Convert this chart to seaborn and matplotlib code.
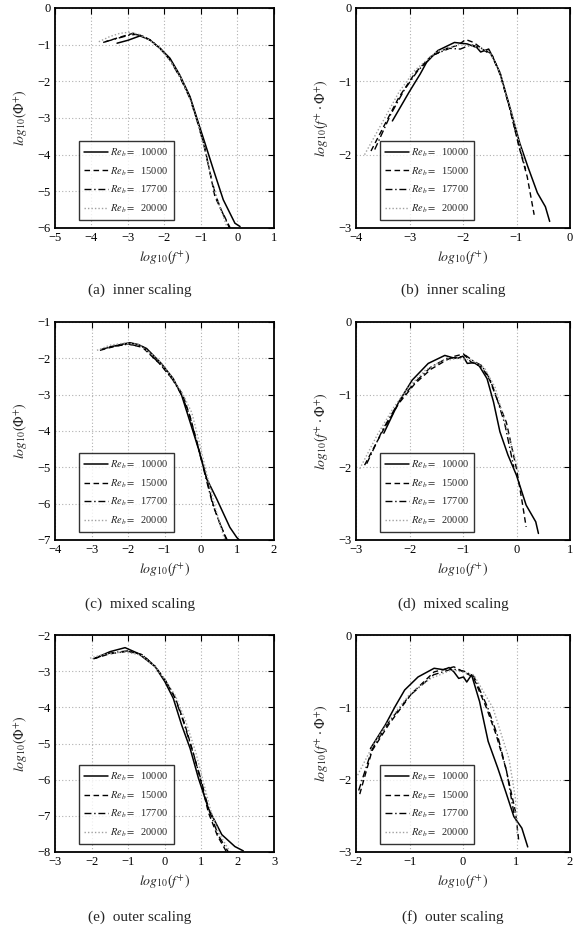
import numpy as np
import pandas as pd
import matplotlib
matplotlib.use("Agg")
import matplotlib.pyplot as plt
import seaborn as sns

# ---------------- data ----------------
labels = ["10000", "15000", "17700", "20000"]

# (a) inner scaling, log10(Phi+)
a_x_10000 = [-3.30, -3.00, -2.67, -2.40, -2.12, -1.85, -1.58, -1.30, -1.07, -0.89, -0.66, -0.39, -0.07, 0.07]
a_y_10000 = [-0.96, -0.88, -0.76, -0.87, -1.10, -1.37, -1.83, -2.42, -3.14, -3.69, -4.41, -5.23, -5.87, -5.96]
a_x_15000 = [-3.68, -3.30, -3.00, -2.85, -2.67, -2.40, -2.12, -1.85, -1.58, -1.30, -1.07, -0.90, -0.75, -0.62, -0.45, -0.30, -0.20]
a_y_15000 = [-0.94, -0.82, -0.73, -0.69, -0.74, -0.87, -1.11, -1.40, -1.86, -2.45, -3.18, -3.80, -4.50, -5.14, -5.50, -5.80, -6.00]
a_x_17700 = [-3.62, -3.30, -3.00, -2.80, -2.60, -2.35, -2.10, -1.85, -1.58, -1.30, -1.07, -0.90, -0.74, -0.60, -0.45, -0.30, -0.22]
a_y_17700 = [-0.92, -0.83, -0.75, -0.72, -0.76, -0.90, -1.12, -1.42, -1.88, -2.47, -3.20, -3.82, -4.55, -5.10, -5.50, -5.82, -6.00]
a_x_20000 = [-3.80, -3.50, -3.22, -2.95, -2.70, -2.40, -2.10, -1.80, -1.55, -1.30, -1.07, -0.90, -0.74, -0.58, -0.42, -0.28]
a_y_20000 = [-0.92, -0.78, -0.69, -0.66, -0.72, -0.88, -1.12, -1.50, -1.90, -2.48, -3.20, -3.84, -4.55, -5.15, -5.60, -6.00]

# (b) inner scaling, log10(f+ . Phi+)
b_x_10000 = [-3.32, -3.01, -2.80, -2.68, -2.47, -2.16, -1.92, -1.74, -1.67, -1.52, -1.45, -1.31, -1.13, -0.94, -0.79, -0.61, -0.46, -0.38]
b_y_10000 = [-1.54, -1.15, -0.90, -0.74, -0.58, -0.47, -0.49, -0.54, -0.60, -0.56, -0.66, -0.88, -1.34, -1.84, -2.16, -2.52, -2.71, -2.91]
b_x_15000 = [-3.72, -3.40, -3.20, -2.89, -2.60, -2.30, -2.10, -1.95, -1.80, -1.60, -1.45, -1.30, -1.13, -0.95, -0.80, -0.67]
b_y_15000 = [-1.95, -1.50, -1.22, -0.88, -0.66, -0.55, -0.51, -0.43, -0.47, -0.58, -0.65, -0.92, -1.36, -1.90, -2.30, -2.82]
b_x_17700 = [-3.65, -3.35, -3.10, -2.85, -2.55, -2.25, -2.05, -1.85, -1.65, -1.48, -1.30, -1.12, -0.98, -0.83]
b_y_17700 = [-1.93, -1.45, -1.12, -0.86, -0.64, -0.55, -0.56, -0.50, -0.55, -0.62, -0.90, -1.38, -1.80, -2.20]
b_x_20000 = [-3.84, -3.50, -3.20, -2.90, -2.50, -2.10, -1.80, -1.50, -1.30, -1.10, -0.85]
b_y_20000 = [-2.00, -1.55, -1.15, -0.85, -0.60, -0.50, -0.52, -0.60, -0.90, -1.40, -2.10]

# (c) mixed scaling, log10(Phi+)
c_x_10000 = [-2.51, -2.20, -1.95, -1.72, -1.49, -1.08, -0.76, -0.53, -0.30, -0.07, 0.16, 0.43, 0.79, 0.98, 1.05]
c_y_10000 = [-1.69, -1.62, -1.57, -1.62, -1.73, -2.15, -2.56, -3.02, -3.75, -4.49, -5.32, -5.87, -6.65, -6.93, -7.00]
c_x_15000 = [-2.77, -2.40, -2.00, -1.60, -1.08, -0.76, -0.50, -0.30, -0.07, 0.15, 0.34, 0.50, 0.66, 0.72]
c_y_15000 = [-1.78, -1.68, -1.60, -1.70, -2.20, -2.60, -3.00, -3.60, -4.45, -5.30, -6.05, -6.50, -6.88, -7.00]
c_x_17700 = [-2.72, -2.40, -2.00, -1.60, -1.10, -0.78, -0.52, -0.30, -0.07, 0.14, 0.32, 0.50, 0.64, 0.70]
c_y_17700 = [-1.75, -1.67, -1.61, -1.68, -2.18, -2.58, -3.02, -3.62, -4.48, -5.32, -6.02, -6.50, -6.85, -7.00]
c_x_20000 = [-2.85, -2.50, -2.10, -1.70, -1.20, -0.80, -0.50, -0.25, -0.05, 0.15, 0.35, 0.50, 0.65]
c_y_20000 = [-1.78, -1.64, -1.58, -1.62, -2.00, -2.52, -2.98, -3.50, -4.30, -5.15, -5.95, -6.50, -7.00]

# (d) mixed scaling, log10(f+ . Phi+)
d_x_10000 = [-2.48, -2.20, -1.95, -1.65, -1.34, -1.20, -1.10, -1.00, -0.92, -0.80, -0.70, -0.55, -0.43, -0.31, -0.16, 0.00, 0.18, 0.36, 0.41]
d_y_10000 = [-1.53, -1.10, -0.80, -0.57, -0.46, -0.49, -0.50, -0.47, -0.57, -0.56, -0.60, -0.78, -1.10, -1.51, -1.83, -2.11, -2.52, -2.75, -2.91]
d_x_15000 = [-2.84, -2.50, -2.20, -1.90, -1.60, -1.30, -1.15, -0.99, -0.85, -0.65, -0.50, -0.37, -0.19, 0.00, 0.10, 0.18]
d_y_15000 = [-1.97, -1.50, -1.12, -0.85, -0.65, -0.52, -0.47, -0.44, -0.55, -0.62, -0.80, -1.05, -1.38, -2.02, -2.45, -2.82]
d_x_17700 = [-2.80, -2.50, -2.20, -1.90, -1.60, -1.30, -1.10, -0.95, -0.80, -0.65, -0.50, -0.38, -0.22, -0.05]
d_y_17700 = [-1.95, -1.48, -1.10, -0.83, -0.62, -0.50, -0.49, -0.46, -0.54, -0.60, -0.78, -1.02, -1.40, -2.00]
d_x_20000 = [-2.93, -2.60, -2.30, -2.00, -1.70, -1.40, -1.10, -0.85, -0.60, -0.40, -0.17, 0.00, 0.05]
d_y_20000 = [-2.02, -1.55, -1.18, -0.88, -0.66, -0.54, -0.50, -0.52, -0.63, -0.90, -1.50, -1.95, -2.10]

# (e) outer scaling, log10(Phi+)
e_x_10000 = [-1.90, -1.49, -1.08, -0.72, -0.26, 0.01, 0.24, 0.47, 0.70, 0.93, 1.20, 1.57, 1.93, 2.16]
e_y_10000 = [-2.64, -2.46, -2.35, -2.51, -2.87, -3.29, -3.75, -4.49, -5.13, -5.96, -6.79, -7.52, -7.85, -7.97]
e_x_15000 = [-1.95, -1.50, -1.00, -0.60, -0.25, 0.05, 0.30, 0.55, 0.80, 1.00, 1.20, 1.45, 1.70]
e_y_15000 = [-2.66, -2.52, -2.45, -2.55, -2.88, -3.30, -3.75, -4.45, -5.30, -6.05, -6.90, -7.55, -8.00]
e_x_17700 = [-1.92, -1.50, -1.02, -0.62, -0.26, 0.04, 0.28, 0.52, 0.78, 1.00, 1.22, 1.48, 1.75]
e_y_17700 = [-2.65, -2.50, -2.44, -2.54, -2.86, -3.28, -3.72, -4.40, -5.25, -6.00, -6.85, -7.55, -8.00]
e_x_20000 = [-2.04, -1.60, -1.10, -0.65, -0.28, 0.02, 0.30, 0.58, 0.85, 1.05, 1.25, 1.50, 1.80]
e_y_20000 = [-2.64, -2.52, -2.47, -2.55, -2.85, -3.25, -3.68, -4.38, -5.22, -6.00, -6.80, -7.50, -8.00]

# (f) outer scaling, log10(f+ . Phi+)
f_x_10000 = [-1.73, -1.45, -1.27, -1.09, -0.84, -0.54, -0.36, -0.26, -0.17, -0.08, 0.01, 0.07, 0.16, 0.31, 0.47, 0.65, 0.80, 0.95, 1.10, 1.21]
f_y_10000 = [-1.57, -1.24, -0.99, -0.76, -0.58, -0.46, -0.48, -0.45, -0.51, -0.60, -0.58, -0.65, -0.55, -0.92, -1.47, -1.84, -2.17, -2.51, -2.67, -2.93]
f_x_15000 = [-1.93, -1.70, -1.39, -0.96, -0.54, -0.17, 0.01, 0.19, 0.44, 0.62, 0.80, 0.98, 1.04]
f_y_15000 = [-2.20, -1.60, -1.24, -0.81, -0.51, -0.44, -0.51, -0.58, -1.01, -1.38, -1.84, -2.44, -2.83]
f_x_17700 = [-1.95, -1.70, -1.40, -1.00, -0.55, -0.20, 0.02, 0.20, 0.46, 0.65, 0.82, 0.96]
f_y_17700 = [-2.15, -1.58, -1.22, -0.84, -0.55, -0.47, -0.50, -0.57, -1.00, -1.40, -1.90, -2.50]
f_x_20000 = [-2.00, -1.70, -1.40, -1.00, -0.60, -0.20, 0.20, 0.56, 0.86, 0.98, 1.01]
f_y_20000 = [-1.98, -1.55, -1.20, -0.82, -0.60, -0.48, -0.55, -1.01, -1.71, -2.26, -2.74]

panels = {
    "a": [(a_x_10000, a_y_10000), (a_x_15000, a_y_15000), (a_x_17700, a_y_17700), (a_x_20000, a_y_20000)],
    "b": [(b_x_10000, b_y_10000), (b_x_15000, b_y_15000), (b_x_17700, b_y_17700), (b_x_20000, b_y_20000)],
    "c": [(c_x_10000, c_y_10000), (c_x_15000, c_y_15000), (c_x_17700, c_y_17700), (c_x_20000, c_y_20000)],
    "d": [(d_x_10000, d_y_10000), (d_x_15000, d_y_15000), (d_x_17700, d_y_17700), (d_x_20000, d_y_20000)],
    "e": [(e_x_10000, e_y_10000), (e_x_15000, e_y_15000), (e_x_17700, e_y_17700), (e_x_20000, e_y_20000)],
    "f": [(f_x_10000, f_y_10000), (f_x_15000, f_y_15000), (f_x_17700, f_y_17700), (f_x_20000, f_y_20000)],
}
xlims = {"a": (-5, 1), "b": (-4, 0), "c": (-4, 2), "d": (-3, 1), "e": (-3, 3), "f": (-2, 2)}
ylims = {"a": (-6, 0), "b": (-3, 0), "c": (-7, -1), "d": (-3, 0), "e": (-8, -2), "f": (-3, 0)}
captions = {"a": "(a)  inner scaling", "b": "(b)  inner scaling",
            "c": "(c)  mixed scaling", "d": "(d)  mixed scaling",
            "e": "(e)  outer scaling", "f": "(f)  outer scaling"}

# ---------------- style ----------------
sns.set_theme(style="white")
plt.rcParams["font.family"] = ["Liberation Serif", "DejaVu Serif"]
plt.rcParams["mathtext.fontset"] = "stix"
plt.rcParams["axes.unicode_minus"] = True

styles = [dict(color="black", linestyle="-", linewidth=1.1),
          dict(color="black", linestyle=(0, (4, 2.5)), linewidth=1.0),
          dict(color="black", linestyle=(0, (5, 2, 1, 2)), linewidth=1.0),
          dict(color="#a0a0a0", linestyle=(0, (1, 1.5)), linewidth=1.0)]

W, H = 576, 926
fig = plt.figure(figsize=(W / 100, H / 100), dpi=100)

col_left = {0: 55, 1: 356}
col_w = {0: 219, 1: 214}
row_tb = {0: (8, 228), 1: (322, 540), 2: (635, 852)}
cap_y = {0: 290, 1: 604, 2: 917}
cap_x = {0: 140, 1: 453}
order = ["a", "b", "c", "d", "e", "f"]

for i, key in enumerate(order):
    r, c = divmod(i, 2)
    x0 = col_left[c]
    t, b = row_tb[r]
    ax = fig.add_axes([x0 / W, 1 - b / H, col_w[c] / W, (b - t) / H])
    for (xs, ys), lab, st in zip(panels[key], labels, styles):
        df = pd.DataFrame({"x": xs, "y": ys})
        sns.lineplot(data=df, x="x", y="y", ax=ax, sort=False, estimator=None,
                     label=r"$Re_b =$  " + lab, **st)
    ax.set_xlim(*xlims[key])
    ax.set_ylim(*ylims[key])
    ax.set_xticks(np.arange(xlims[key][0], xlims[key][1] + 1))
    ax.set_yticks(np.arange(ylims[key][0], ylims[key][1] + 1))
    ax.grid(True, linestyle=(0, (1, 2)), color="#b0b0b0", linewidth=0.8)
    ax.tick_params(direction="in", length=4, width=0.8, top=True, right=True,
                   labelsize=9, pad=3, colors="black")
    for sp in ax.spines.values():
        sp.set_visible(True)
        sp.set_color("black")
        sp.set_linewidth(1.3)
    ax.set_xlabel(r"$log_{10}(f^{+})$", fontsize=10, labelpad=3)
    if c == 0:
        ax.set_ylabel(r"$log_{10}(\Phi^{+})$", fontsize=10, labelpad=6)
    else:
        ax.set_ylabel(r"$log_{10}(f^{+}\cdot\Phi^{+})$", fontsize=10, labelpad=6)
    leg = ax.legend(loc="lower left", bbox_to_anchor=(0.11, 0.035), fontsize=7.5,
                    frameon=True, fancybox=False, edgecolor="black",
                    handlelength=2.3, handletextpad=0.2, labelspacing=0.6,
                    borderpad=0.5, borderaxespad=0.0)
    leg.get_frame().set_linewidth(1.0)
    fig.text(cap_x[c] / W, 1 - cap_y[r] / H, captions[key], ha="center", va="center",
             fontsize=11)

fig.savefig("out.png", dpi=100)
